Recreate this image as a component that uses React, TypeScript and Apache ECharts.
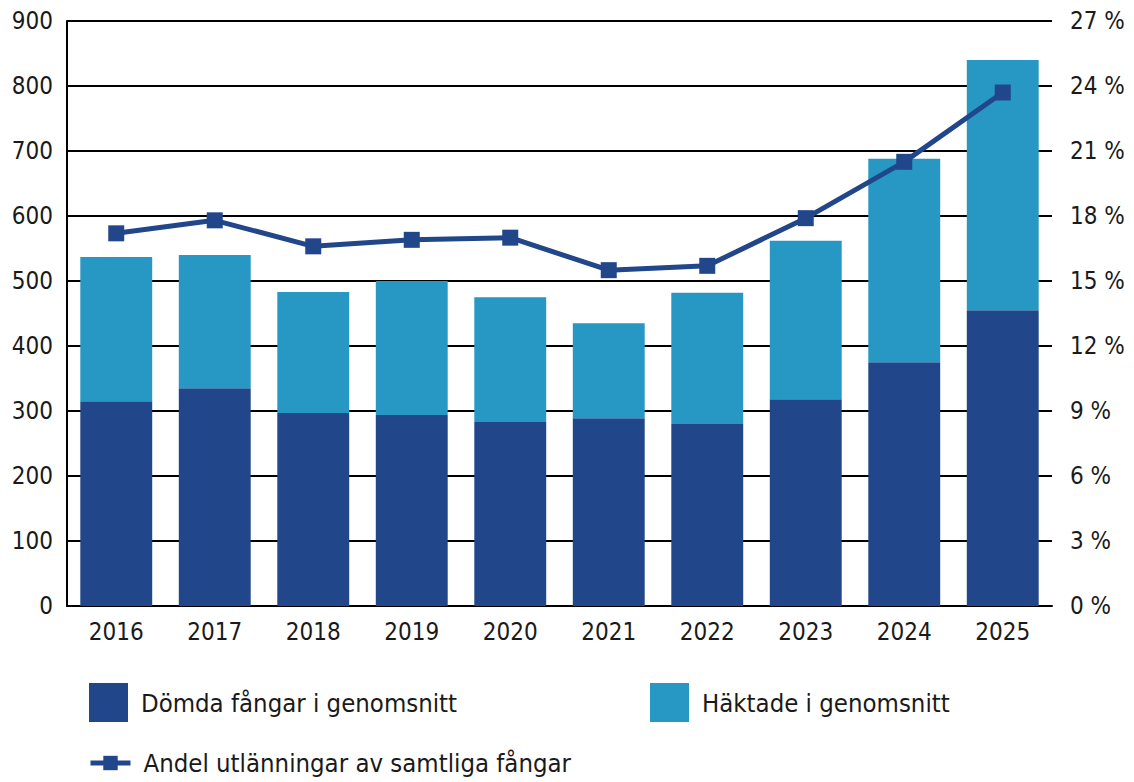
import React, { useEffect, useRef } from "react";
import * as echarts from "echarts";

const years = ["2016", "2017", "2018", "2019", "2020", "2021", "2022", "2023", "2024", "2025"];
const domda = [315, 335, 297, 294, 283, 289, 280, 318, 375, 455];
const haktade = [222, 205, 186, 206, 192, 146, 202, 244, 313, 385];
const andel = [17.2, 17.8, 16.6, 16.9, 17.0, 15.5, 15.7, 17.9, 20.5, 23.7];

const DARK = "#21468a";
const LIGHT = "#2798c3";
const FONT = "'DejaVu Sans Condensed', 'Liberation Sans Narrow', sans-serif";

export default function App() {
  const ref = useRef<HTMLDivElement>(null);
  useEffect(() => {
    if (!ref.current) return;
    const chart = echarts.init(ref.current, null, { renderer: "svg" });
    const axisText = { fontFamily: FONT, fontSize: 24, color: "#1a1a1a" };
    const legText = { fontFamily: FONT, fontSize: 25.5, color: "#1a1a1a", padding: [0, 0, 0, 8] };
    chart.setOption({
      animation: false,
      textStyle: { fontFamily: FONT },
      grid: { left: 67, right: 82, top: 21, bottom: 176, containLabel: false },
      legend: [
        {
          data: [{ name: "Dömda fångar i genomsnitt", icon: "rect" }],
          left: 89, top: 683, padding: 0, itemWidth: 39, itemHeight: 39,
          textStyle: legText,
          selectedMode: false,
        },
        {
          data: [{ name: "Häktade i genomsnitt", icon: "rect" }],
          left: 650, top: 683, padding: 0, itemWidth: 39, itemHeight: 39,
          textStyle: legText,
          selectedMode: false,
        },
        {
          data: ["Andel utlänningar av samtliga fångar"],
          left: 88, top: 750, padding: 0, itemWidth: 40, itemHeight: 18,
          lineStyle: { width: 5 },
          textStyle: legText,
          selectedMode: false,
        },
      ],
      xAxis: {
        type: "category",
        data: years,
        axisLine: { lineStyle: { color: "#000", width: 2 } },
        axisTick: { show: false },
        axisLabel: { ...axisText, margin: 14 },
      },
      yAxis: [
        {
          type: "value",
          min: 0, max: 900, interval: 100,
          axisLine: { show: true, lineStyle: { color: "#000", width: 2 } },
          axisTick: { show: false },
          axisLabel: { ...axisText, margin: 14 },
          splitLine: { lineStyle: { color: "#000", width: 2 } },
        },
        {
          type: "value",
          min: 0, max: 27, interval: 3,
          position: "right",
          axisLine: { show: false },
          axisTick: { show: false },
          axisLabel: { ...axisText, margin: 18, formatter: "{value} %" },
          splitLine: { show: false },
        },
      ],
      series: [
        {
          name: "Dömda fångar i genomsnitt",
          type: "bar",
          stack: "total",
          data: domda,
          barWidth: "73%",
          itemStyle: { color: DARK },
        },
        {
          name: "Häktade i genomsnitt",
          type: "bar",
          stack: "total",
          data: haktade,
          barWidth: "73%",
          itemStyle: { color: LIGHT },
        },
        {
          name: "Andel utlänningar av samtliga fångar",
          type: "line",
          yAxisIndex: 1,
          data: andel,
          symbol: "rect",
          symbolSize: 16,
          lineStyle: { color: DARK, width: 5 },
          itemStyle: { color: DARK },
          z: 5,
        },
      ],
    });
    return () => chart.dispose();
  }, []);
  return <div ref={ref} style={{ width: 1134, height: 782, position: "absolute", left: 0, top: 0 }} />;
}
